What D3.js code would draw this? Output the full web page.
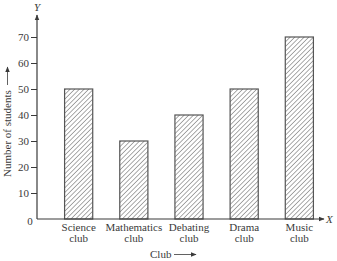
<!DOCTYPE html>
<html>
<head>
<meta charset="utf-8">
<script src="https://cdn.jsdelivr.net/npm/d3@7"></script>
<style>
  body { margin: 0; background: #fff; }
  svg { display: block; font-family: "Liberation Serif", "DejaVu Serif", serif; }
</style>
</head>
<body>
<svg id="chart" width="337" height="261"></svg>
<script>
// data
const clubs = ["Science club", "Mathematics club", "Debating club", "Drama club", "Music club"];
const students = [50, 30, 40, 50, 70];
const yTicks = [10, 20, 30, 40, 50, 60, 70];

const svg = d3.select("#chart");
const ink = "#3a3a3a";

const x = d3.scaleBand()
    .domain(clubs)
    .range([37, 341])
    .paddingInner(0.49)
    .paddingOuter(0.5);

const y = d3.scaleLinear()
    .domain([0, 70])
    .range([219, 37]);

// hatch fill
const defs = svg.append("defs");
const pat = defs.append("pattern")
    .attr("id", "hatch")
    .attr("patternUnits", "userSpaceOnUse")
    .attr("width", 3.3)
    .attr("height", 3.3)
    .attr("patternTransform", "rotate(45)");
pat.append("line")
    .attr("x1", 0).attr("y1", 0)
    .attr("x2", 0).attr("y2", 3.3)
    .attr("stroke", "#555")
    .attr("stroke-width", 1);

defs.append("marker")
    .attr("id", "arrow")
    .attr("viewBox", "0 0 10 10")
    .attr("refX", 9).attr("refY", 5)
    .attr("markerWidth", 6).attr("markerHeight", 6)
    .attr("markerUnits", "userSpaceOnUse")
    .attr("orient", "auto")
    .append("path")
    .attr("d", "M0,1 L10,5 L0,9 Z")
    .attr("fill", ink);

// bars
svg.append("g")
    .selectAll("rect")
    .data(clubs)
    .enter().append("rect")
    .attr("x", d => x(d))
    .attr("y", (d, i) => y(students[i]))
    .attr("width", x.bandwidth())
    .attr("height", (d, i) => y(0) - y(students[i]))
    .attr("fill", "url(#hatch)")
    .attr("stroke", "#555")
    .attr("stroke-width", 1.2);

// y axis
const yAxis = svg.append("g")
    .attr("transform", `translate(${x.range()[0]},0)`)
    .call(d3.axisLeft(y).tickValues(yTicks).tickSize(6).tickPadding(2));
yAxis.select(".domain").remove();
yAxis.selectAll("line").attr("stroke", ink);
yAxis.selectAll("text")
    .attr("fill", ink)
    .style("font-family", "Liberation Serif, serif")
    .style("font-size", "11px");

svg.append("line")
    .attr("x1", 37).attr("y1", y(0))
    .attr("x2", 37).attr("y2", 15)
    .attr("stroke", ink).attr("stroke-width", 1.2)
    .attr("marker-end", "url(#arrow)");
svg.append("line")
    .attr("x1", 37).attr("y1", y(0))
    .attr("x2", 324).attr("y2", y(0))
    .attr("stroke", ink).attr("stroke-width", 1.2)
    .attr("marker-end", "url(#arrow)");

svg.append("text")
    .attr("x", 30).attr("y", y(0) + 6)
    .attr("text-anchor", "middle")
    .attr("fill", ink)
    .style("font-size", "11px")
    .text("0");
svg.append("text")
    .attr("x", 37).attr("y", 11)
    .attr("text-anchor", "middle")
    .attr("fill", ink)
    .style("font-size", "11px")
    .style("font-style", "italic")
    .text("Y");
svg.append("text")
    .attr("x", 326).attr("y", y(0) + 4)
    .attr("fill", ink)
    .style("font-size", "11px")
    .style("font-style", "italic")
    .text("X");

// category labels
const lab = svg.append("g")
    .selectAll("text")
    .data(clubs)
    .enter().append("text")
    .attr("text-anchor", "middle")
    .attr("fill", ink)
    .style("font-size", "11px")
    .attr("transform", d => `translate(${x(d) + x.bandwidth() / 2},${y(0) + 12})`);
lab.append("tspan").attr("x", 0).attr("y", 0).text(d => d.split(" ")[0]);
lab.append("tspan").attr("x", 0).attr("y", 11).text(d => d.split(" ")[1]);

// axis titles with arrows
svg.append("text")
    .attr("x", 150).attr("y", 258)
    .attr("fill", ink)
    .style("font-size", "11px")
    .text("Club");
svg.append("line")
    .attr("x1", 174).attr("y1", 254.5)
    .attr("x2", 196).attr("y2", 254.5)
    .attr("stroke", ink).attr("stroke-width", 0.8)
    .attr("marker-end", "url(#arrow)");

svg.append("text")
    .attr("transform", "translate(11,177) rotate(-90)")
    .attr("fill", ink)
    .style("font-size", "11px")
    .text("Number of students");
svg.append("line")
    .attr("x1", 7.5).attr("y1", 85)
    .attr("x2", 7.5).attr("y2", 67)
    .attr("stroke", ink).attr("stroke-width", 0.8)
    .attr("marker-end", "url(#arrow)");
</script>
</body>
</html>
